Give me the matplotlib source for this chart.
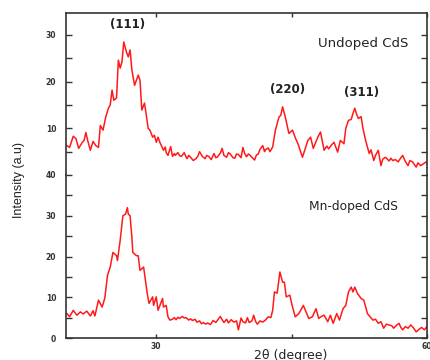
# XRD patterns of undoped and Mn-doped CdS
import matplotlib
matplotlib.use("Agg")
import matplotlib.pyplot as plt

# Undoped CdS (upper panel)
undoped_2theta = [20.1, 20.4, 20.8, 21.1, 21.4, 21.8, 22.0, 22.2, 22.4, 22.7, 23.0, 23.3, 23.6,
                  23.8, 24.1, 24.4, 24.7, 24.9, 25.1, 25.3, 25.6, 25.8, 26.0, 26.2, 26.4, 26.7,
                  26.9, 27.1, 27.3, 27.6, 27.8, 28.0, 28.2, 28.4, 28.7, 28.9, 29.1, 29.3, 29.6,
                  29.8, 30.0, 30.2, 30.4, 30.8, 31.0, 31.1, 31.3, 31.6, 31.8, 32.0, 32.1, 32.4,
                  32.6, 32.8, 33.1, 33.2, 33.4, 33.6, 33.8, 34.1, 34.4, 34.6, 34.8, 35.1, 35.4,
                  35.6, 35.8, 36.1, 36.4, 36.6, 36.8, 37.1, 37.3, 37.5, 37.8, 38.0, 38.2, 38.5,
                  38.7, 38.9, 39.1, 39.4, 39.6, 39.8, 40.0, 40.2, 40.4, 40.7, 40.9, 41.1, 41.3,
                  41.5, 41.8, 42.0, 42.1, 42.4, 42.6, 42.9, 43.2, 43.6, 43.8, 44.0, 44.3, 44.7,
                  45.1, 45.4, 45.7, 46.2, 46.5, 46.8, 47.1, 47.4, 47.9, 48.2, 48.6, 48.9, 49.1,
                  49.4, 49.7, 50.1, 50.4, 50.8, 51.0, 51.3, 51.6, 51.8, 52.0, 52.2, 52.4, 52.7,
                  52.9, 53.2, 53.6, 53.8, 54.1, 54.3, 54.6, 54.9, 55.1, 55.4, 55.8, 56.0, 56.2,
                  56.5, 56.8, 57.0, 57.3, 57.6, 57.9, 58.1, 58.4, 58.8, 59.0, 59.3, 59.6, 59.9,
                  60.0]
undoped_int = [6.3, 5.9, 8.3, 7.8, 5.7, 7.0, 7.4, 9.1, 7.4, 5.3, 7.2, 6.3, 5.9,
               10.6, 9.6, 12.4, 14.3, 15.0, 18.2, 16.0, 16.5, 24.6, 22.9, 24.2, 28.5, 26.3,
               25.3, 26.8, 22.5, 19.2, 20.3, 21.4, 20.3, 13.9, 15.4, 12.8, 10.0, 9.6, 8.1,
               8.5, 7.0, 8.1, 7.0, 5.3, 6.0, 4.8, 4.2, 6.1, 4.0, 4.6, 4.2, 4.8,
               4.1, 4.0, 4.8, 4.3, 3.5, 4.2, 3.8, 3.1, 3.5, 4.0, 5.0, 4.0, 3.5,
               4.2, 4.0, 3.3, 4.6, 3.7, 3.9, 4.7, 5.7, 4.2, 3.8, 4.8, 4.5, 3.7,
               3.6, 4.5, 4.4, 3.7, 5.9, 4.6, 3.9, 4.5, 4.2, 3.6, 3.2, 4.3, 4.5,
               5.5, 6.3, 5.0, 5.4, 5.8, 5.0, 6.0, 9.6, 12.4, 12.8, 14.6, 12.4, 8.9,
               9.6, 8.0, 6.7, 3.8, 5.6, 7.4, 8.1, 5.7, 8.1, 9.2, 5.3, 6.2, 5.6,
               6.4, 7.0, 4.9, 7.4, 6.7, 10.0, 11.7, 11.9, 13.2, 14.3, 13.0, 12.1, 12.5,
               10.0, 7.4, 4.6, 5.4, 3.1, 4.2, 5.3, 2.0, 3.4, 3.8, 3.0, 3.6, 3.1,
               3.3, 2.8, 3.4, 4.2, 2.9, 2.0, 3.1, 2.8, 1.7, 2.6, 2.0, 2.4, 2.8,
               2.5]

# Mn-doped CdS (lower panel)
mn_2theta = [20.1, 20.4, 20.8, 21.2, 21.6, 21.9, 22.3, 22.7, 23.0, 23.2, 23.6, 24.0, 24.3,
             24.6, 24.9, 25.2, 25.6, 25.7, 26.0, 26.3, 26.6, 26.8, 26.9, 27.1, 27.3, 27.4,
             27.8, 28.0, 28.2, 28.6, 28.8, 29.0, 29.2, 29.6, 29.7, 30.0, 30.2, 30.7, 30.8,
             31.1, 31.3, 31.5, 31.8, 32.0, 32.2, 32.4, 32.6, 32.9, 33.1, 33.3, 33.6, 33.8,
             34.0, 34.3, 34.5, 34.8, 35.0, 35.2, 35.5, 35.7, 36.0, 36.3, 36.6, 36.8, 37.1,
             37.3, 37.5, 37.8, 38.0, 38.3, 38.6, 38.9, 39.1, 39.4, 39.6, 39.9, 40.1, 40.3,
             40.6, 40.8, 41.0, 41.2, 41.5, 41.8, 42.1, 42.4, 42.7, 42.9, 43.1, 43.4, 43.7,
             44.0, 44.2, 44.4, 44.8, 45.1, 45.4, 45.8, 46.3, 46.9, 47.3, 47.7, 48.0, 48.3,
             48.6, 49.0, 49.3, 49.6, 50.0, 50.3, 50.7, 51.0, 51.3, 51.6, 51.8, 52.0, 52.3,
             52.7, 53.0, 53.4, 53.7, 54.0, 54.3, 54.6, 54.9, 55.2, 55.5, 55.8, 56.1, 56.3,
             56.6, 56.9, 57.1, 57.3, 57.6, 57.9, 58.2, 58.5, 58.8, 59.1, 59.4, 59.7, 60.0]
mn_int = [6.0, 5.2, 6.8, 5.6, 6.4, 5.9, 6.6, 5.4, 6.7, 5.4, 9.3, 7.6, 9.8,
          15.4, 17.4, 21.0, 20.2, 19.0, 23.9, 30.0, 30.4, 32.0, 30.4, 30.0, 24.7, 21.0,
          20.2, 20.2, 16.6, 17.4, 14.1, 10.9, 8.5, 10.1, 8.0, 10.1, 6.8, 9.7, 7.6,
          8.0, 5.2, 4.4, 4.6, 5.0, 4.5, 5.1, 4.8, 5.3, 4.9, 5.0, 4.4, 4.7,
          4.3, 4.6, 3.9, 4.2, 3.5, 3.8, 3.4, 3.7, 3.3, 4.3, 3.8, 4.4, 5.3,
          4.5, 3.8, 4.6, 3.7, 4.5, 3.9, 4.2, 2.0, 4.9, 4.0, 3.7, 5.0, 3.8,
          4.2, 5.6, 4.1, 3.4, 4.2, 3.9, 4.4, 5.2, 5.0, 6.8, 11.3, 11.0, 16.2,
          13.7, 13.7, 10.1, 10.5, 7.6, 5.2, 6.0, 8.0, 4.8, 5.2, 7.2, 4.8, 5.3,
          5.6, 4.0, 5.6, 3.6, 6.0, 4.4, 7.2, 8.0, 11.3, 12.5, 11.3, 12.5, 10.9,
          9.7, 9.3, 6.0, 5.2, 4.4, 4.6, 3.6, 4.0, 2.4, 3.4, 3.2, 3.0, 2.4,
          3.1, 3.6, 2.6, 2.0, 2.8, 2.4, 3.2, 2.5, 1.5, 2.1, 2.6, 2.0, 2.8]

# Peak labels (text, 2theta, intensity in upper panel)
peak_labels = ["(111)", "(220)", "(311)"]
peak_x = [26.8, 44.6, 52.8]
peak_y = [32.2, 18.3, 17.6]

line_color = "#ff1a1a"
axis_color = "#333333"
tick_font = {"family": "DejaVu Sans", "weight": "bold", "size": 5.5}

fig = plt.figure(figsize=(4.3, 3.6), dpi=100)
ax_top = fig.add_axes([0.1535, 0.5139, 0.8395, 0.45])
ax_bot = fig.add_axes([0.1535, 0.0611, 0.8395, 0.4528])

ax_top.plot(undoped_2theta, undoped_int, color=line_color, lw=1.1)
ax_bot.plot(mn_2theta, mn_int, color=line_color, lw=1.1)

for ax in (ax_top, ax_bot):
    ax.set_xlim(20, 60)
    ax.set_xticks([30, 45, 60])
    for side in ax.spines.values():
        side.set_color(axis_color)
        side.set_linewidth(1.2)
    ax.tick_params(which="both", direction="in", color=axis_color, width=1.0,
                   left=True, right=True, length=4)
    ax.tick_params(axis="y", which="both", labelcolor=axis_color, pad=7)

# upper panel: open at the bottom
ax_top.spines["bottom"].set_visible(False)
ax_top.set_ylim(0, 34.7)
ax_top.set_yticks([10, 20, 30])
ax_top.set_yticks([5, 15, 25], minor=True)
ax_top.tick_params(axis="x", bottom=False, top=True, labelbottom=False, length=3)

# lower panel: open at the top
ax_bot.spines["top"].set_visible(False)
ax_bot.set_ylim(0, 40)
ax_bot.set_yticks([0, 10, 20, 30, 40])
ax_bot.set_yticks([5, 15, 25, 35], minor=True)
ax_bot.set_xticklabels(["30", "", "60"])
ax_bot.tick_params(axis="x", bottom=True, top=False, length=3, pad=3, labelcolor=axis_color)

for ax in (ax_top, ax_bot):
    for lab in ax.get_xticklabels() + ax.get_yticklabels():
        lab.set_fontproperties(tick_font)
        lab.set_fontsize(5.5)
        lab.set_fontweight("bold")

for txt, px, py in zip(peak_labels, peak_x, peak_y):
    ax_top.text(px, py, txt, ha="center", va="center", fontsize=8.5,
                fontweight="bold", color="#222222")

ax_top.text(52.9, 28.1, "Undoped CdS", ha="center", va="center", fontsize=9.5, color="#222222")
ax_bot.text(51.9, 32.2, "Mn-doped CdS", ha="center", va="center", fontsize=8.8, color="#222222")

fig.text(0.045, 0.5, "Intensity (a.u)", rotation=90, ha="center", va="center",
         fontsize=9, family="Liberation Sans", color="#222222")
fig.text(0.675, 0.012, "2θ (degree)", ha="center", va="center", fontsize=9, color="#222222")

fig.savefig("out.png", dpi=100)
